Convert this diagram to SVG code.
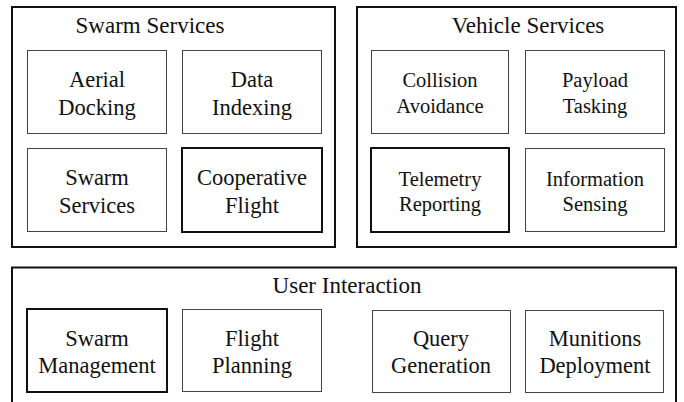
<svg xmlns="http://www.w3.org/2000/svg" width="684" height="402" viewBox="0 0 684 402" font-family="Liberation Serif">
  <style>
    .group { fill: #fff; stroke: #111; stroke-width: 2; }
    .box { fill: #fff; stroke: #444; stroke-width: 1; }
    .key { fill: #fff; stroke: #111; stroke-width: 2; }
    text { fill: #111; text-anchor: middle; font-family: "Liberation Serif", "Times New Roman", serif; font-size: 22.5px; }
    text.title { font-size: 23px; }
    text.sm { font-size: 20.5px; }
  </style>
  <rect width="684" height="402" fill="#fff"/>

  <!-- Swarm Services group -->
  <g id="swarm-services-group">
    <rect class="group" x="12" y="7" width="323" height="240"/>
    <text class="title" x="150" y="33">Swarm Services</text>
  </g>
  <g id="aerial-docking">
    <rect class="box" x="27.5" y="50.5" width="139" height="83"/>
    <text x="97" y="87">Aerial</text>
    <text x="97" y="115">Docking</text>
  </g>
  <g id="data-indexing">
    <rect class="box" x="182.5" y="50.5" width="139" height="83"/>
    <text x="252" y="87">Data</text>
    <text x="252" y="115">Indexing</text>
  </g>
  <g id="swarm-services">
    <rect class="box" x="27.5" y="148.5" width="139" height="83"/>
    <text x="97" y="185">Swarm</text>
    <text x="97" y="213">Services</text>
  </g>
  <g id="cooperative-flight">
    <rect class="key" x="182" y="148" width="140" height="84"/>
    <text x="252" y="185">Cooperative</text>
    <text x="252" y="213">Flight</text>
  </g>

  <!-- Vehicle Services group -->
  <g id="vehicle-services-group">
    <rect class="group" x="357" y="7" width="319" height="240"/>
    <text class="title" x="528" y="33">Vehicle Services</text>
  </g>
  <g id="collision-avoidance">
    <rect class="box" x="371.5" y="50.5" width="137" height="83"/>
    <text class="sm" x="440" y="87">Collision</text>
    <text class="sm" x="440" y="113">Avoidance</text>
  </g>
  <g id="payload-tasking">
    <rect class="box" x="525.5" y="50.5" width="139" height="83"/>
    <text class="sm" x="595" y="87">Payload</text>
    <text class="sm" x="595" y="113">Tasking</text>
  </g>
  <g id="telemetry-reporting">
    <rect class="key" x="371" y="148" width="138" height="84"/>
    <text class="sm" x="440" y="186">Telemetry</text>
    <text class="sm" x="440" y="211">Reporting</text>
  </g>
  <g id="information-sensing">
    <rect class="box" x="525.5" y="148.5" width="139" height="83"/>
    <text class="sm" x="595" y="186">Information</text>
    <text class="sm" x="595" y="211">Sensing</text>
  </g>

  <!-- User Interaction group (runs past the bottom edge) -->
  <g id="user-interaction-group">
    <path class="group" fill="none" d="M12,410 V267.5 H676 V410"/>
    <text class="title" x="347" y="293">User Interaction</text>
  </g>
  <g id="swarm-management">
    <rect class="key" x="27" y="309" width="140" height="83"/>
    <text x="97" y="346">Swarm</text>
    <text x="97" y="373">Management</text>
  </g>
  <g id="flight-planning">
    <rect class="box" x="182.5" y="309.5" width="139" height="82"/>
    <text x="252" y="346">Flight</text>
    <text x="252" y="373">Planning</text>
  </g>
  <g id="query-generation">
    <rect class="box" x="372.5" y="310.5" width="138" height="82"/>
    <text x="441" y="346">Query</text>
    <text x="441" y="373">Generation</text>
  </g>
  <g id="munitions-deployment">
    <rect class="box" x="525.5" y="310.5" width="138" height="82"/>
    <text x="595" y="346">Munitions</text>
    <text x="595" y="373">Deployment</text>
  </g>

  <g id="connectors"></g>
</svg>
